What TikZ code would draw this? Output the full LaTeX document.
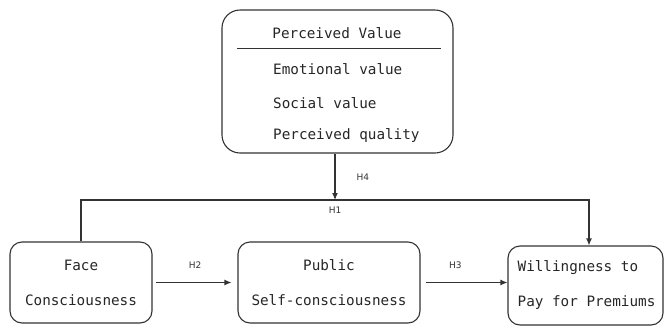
\documentclass[tikz,border=0pt]{standalone}
\usepackage{fontspec}
\newfontfamily\boxfont{DejaVu Sans Mono}
\newfontfamily\hfont{DejaVu Sans}
\usetikzlibrary{arrows.meta,calc,positioning}

\tikzset{
  box/.style={draw=black!80,rectangle,line width=1.1pt,rounded corners=12pt},
  txt/.style={font=\boxfont\fontsize{14.3}{35}\selectfont,text=black!85,inner sep=0pt},
  hyp/.style={font=\hfont\fontsize{9}{10}\selectfont,text=black!80,inner sep=1pt},
  arr/.style={draw=black!80,line width=1.1pt,-{Latex[length=7pt,width=6pt]}},
}

\begin{document}
\begin{tikzpicture}[x=1pt,y=-1pt]
  \useasboundingbox (0,0) rectangle (665,325);
  % perceived value box
  \node [box,rounded corners=18pt,minimum width=231pt,minimum height=143pt] (pv) at (337.5,81.5) {};
  \node [txt] (pvt) at (337,33) {Perceived Value};
  \draw [black!80,line width=1pt] ($(pv.north west)+(16,39)$) coordinate (rl) -- ($(pv.north east)+(-13,39)$) coordinate (rr);
  \node [txt,anchor=west] (emo) at (273,69) {Emotional value};
  \node [txt,anchor=west] (soc) at (273,103) {Social value};
  \node [txt,anchor=west] (pq) at (273,136) {Perceived quality};
  % bottom row
  \node [box,txt,minimum width=142pt,minimum height=81pt,align=center] (fc) at (81,282.5) {Face\\Consciousness};
  \node [box,txt,minimum width=182pt,minimum height=81pt,align=center] (pc) at (329,282.5) {Public\\Self-consciousness};
  \node [box,minimum width=155pt,minimum height=79pt] (wp) at (585.5,285.5) {};
  \node [txt,anchor=west,align=left] (wpt) at ($(wp.west)+(10,0)$) {Willingness to\\Pay for Premiums};
  % connectors
  \coordinate (j4) at (335,200);
  \coordinate (jr) at (589,200);
  \draw [arr] (pv.south -| j4) -- (j4) node [hyp,midway,right=20pt] (h4) {H4};
  \draw [arr] (fc.north) |- (jr) -- (wp.north -| jr);
  \node [hyp,below=6pt of j4] (h1) {H1};
  \draw [arr,shorten <=3pt,shorten >=6pt] (fc.east) -- (pc.west) node [hyp,midway,above=12pt] (h2) {H2};
  \draw [arr,shorten <=5pt] (pc.east) -- (wp.west |- pc.east) node [hyp,pos=0.4,above=12pt] (h3) {H3};
\end{tikzpicture}
\end{document}
